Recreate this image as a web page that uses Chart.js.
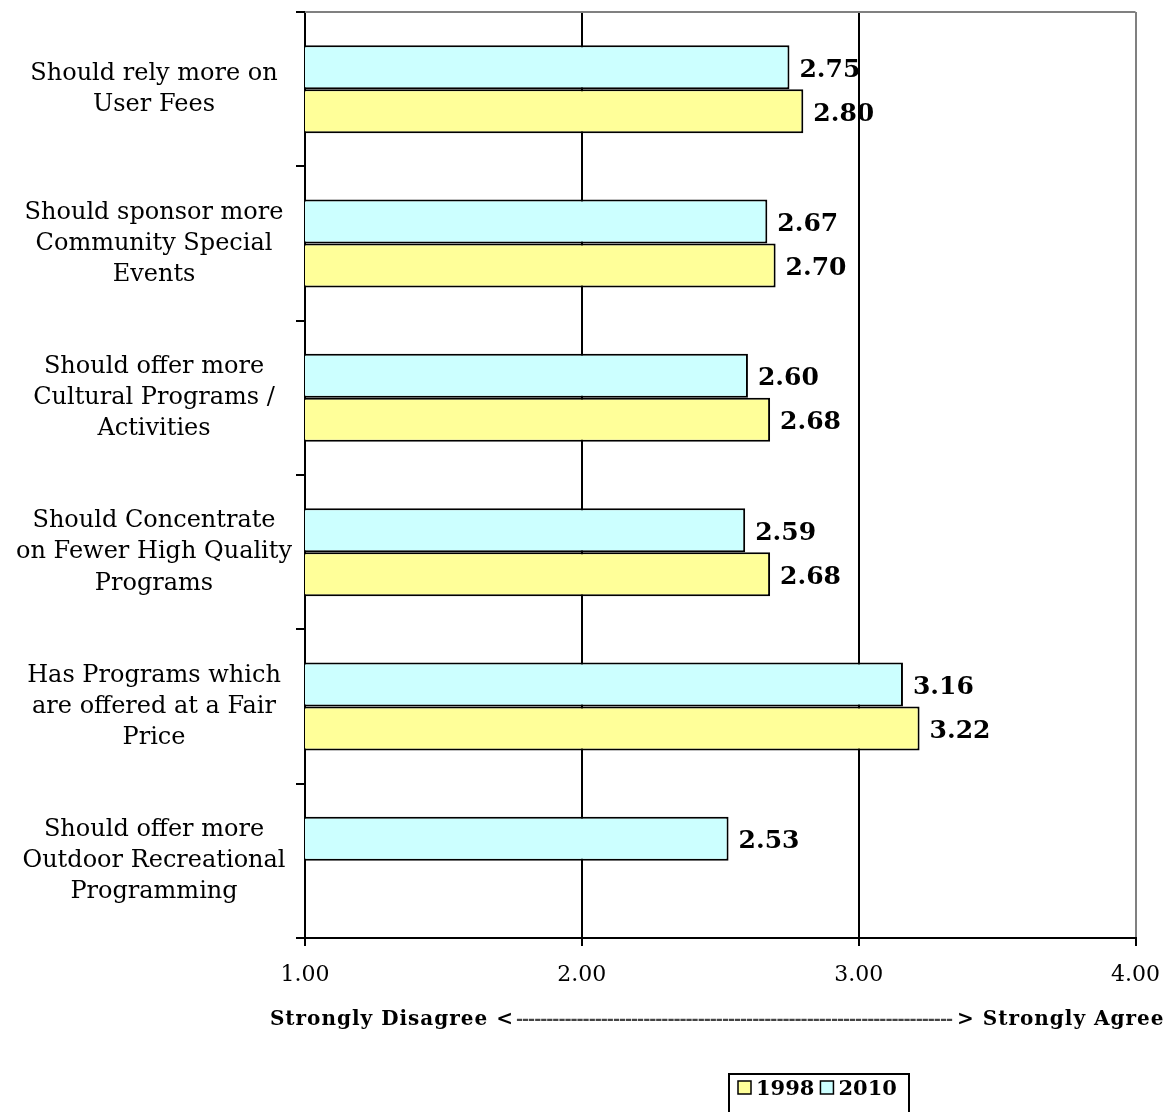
<!DOCTYPE html>
<html>
<head>
<meta charset="utf-8">
<script src="https://cdn.jsdelivr.net/npm/chart.js@4.4.0/dist/chart.umd.min.js"></script>
<style>
  html, body { margin: 0; padding: 0; background: #fff; }
</style>
</head>
<body>
<canvas id="chart" width="1176" height="1112"></canvas>
<script>
const categories = [
    ["Should rely more on", "User Fees"],
    ["Should sponsor more", "Community Special", "Events"],
    ["Should offer more", "Cultural Programs /", "Activities"],
    ["Should Concentrate", "on Fewer High Quality", "Programs"],
    ["Has Programs which", "are offered at a Fair", "Price"],
    ["Should offer more", "Outdoor Recreational", "Programming"]
];
const values2010 = [2.75, 2.67, 2.60, 2.59, 3.16, 2.53];
const values1998 = [2.80, 2.70, 2.68, 2.68, 3.22, null];
const xTicks = [1, 2, 3, 4];
const titleLeft = "Strongly Disagree <";
const titleRight = "> Strongly Agree";

const serif = "'DejaVu Serif', serif";

// value labels at the end of each bar
const valueLabels = {
    id: 'valueLabels',
    afterDatasetsDraw(chart) {
        const ctx = chart.ctx;
        ctx.save();
        ctx.font = "bold 25px " + serif;
        ctx.fillStyle = "#000";
        ctx.textAlign = "left";
        ctx.textBaseline = "middle";
        chart.data.datasets.forEach((ds, i) => {
            chart.getDatasetMeta(i).data.forEach((bar, j) => {
                const v = ds.data[j];
                if (v == null) return;
                ctx.fillText(v.toFixed(2), bar.x + 10, bar.y + 3);
            });
        });
        ctx.restore();
    }
};

// grey plot area border on top
const plotBorder = {
    id: 'plotBorder',
    beforeDatasetsDraw(chart) {
        const { ctx, chartArea: a } = chart;
        ctx.save();
        ctx.strokeStyle = "#808080";
        ctx.lineWidth = 2;
        ctx.beginPath();
        ctx.moveTo(a.left, a.top);
        ctx.lineTo(a.right, a.top);
        ctx.stroke();
        ctx.restore();
    }
};

// the long "disagree <----> agree" axis title, wider than the plot area
const axisCaption = {
    id: 'axisCaption',
    afterDraw(chart) {
        const ctx = chart.ctx;
        const y = 1020;
        ctx.save();
        ctx.fillStyle = "#000";
        ctx.textBaseline = "middle";
        ctx.font = "bold 20px " + serif;
        ctx.letterSpacing = "1px";
        ctx.textAlign = "right";
        ctx.fillText(titleLeft, 514, y);
        ctx.textAlign = "left";
        ctx.fillText(titleRight, 957, y);
        // dashes between the two ends
        ctx.font = "bold 17px " + serif;
        ctx.letterSpacing = "-1px";
        ctx.fillStyle = "#444";
        let dashes = "";
        while (ctx.measureText(dashes + "-").width < 958 - 516) dashes += "-";
        ctx.fillText(dashes, 516, y);
        ctx.restore();
    }
};

// boxed legend under the axis title
const boxLegend = {
    id: 'boxLegend',
    afterDraw(chart) {
        const ctx = chart.ctx;
        const items = [
            { label: "1998", color: "#FFFF99" },
            { label: "2010", color: "#CCFFFF" }
        ];
        ctx.save();
        ctx.strokeStyle = "#000";
        ctx.lineWidth = 2;
        ctx.strokeRect(729, 1074, 180, 50);
        ctx.font = "bold 21px " + serif;
        ctx.textBaseline = "middle";
        let x = 738;
        items.forEach(it => {
            ctx.fillStyle = it.color;
            ctx.fillRect(x, 1081, 13, 13);
            ctx.lineWidth = 1.5;
            ctx.strokeRect(x, 1081, 13, 13);
            ctx.fillStyle = "#000";
            ctx.fillText(it.label, x + 18, 1090);
            x += 18 + ctx.measureText(it.label).width + 6;
        });
        ctx.restore();
    }
};

new Chart(document.getElementById('chart'), {
    type: 'bar',
    data: {
        labels: categories,
        datasets: [
            {
                label: "2010",
                data: values2010,
                backgroundColor: "#CCFFFF",
                borderColor: "#000",
                borderWidth: 2,
                categoryPercentage: 0.57,
                barPercentage: 1
            },
            {
                label: "1998",
                data: values1998,
                backgroundColor: "#FFFF99",
                borderColor: "#000",
                borderWidth: 2,
                categoryPercentage: 0.57,
                barPercentage: 1
            }
        ]
    },
    options: {
        indexAxis: 'y',
        responsive: false,
        animation: false,
        layout: { padding: { top: 12, right: 40, bottom: 80, left: 0 } },
        plugins: {
            legend: { display: false },
            tooltip: { enabled: false }
        },
        scales: {
            x: {
                min: 1,
                max: 4,
                afterBuildTicks: scale => { scale.ticks = xTicks.map(v => ({ value: v })); },
                afterFit: scale => { scale.height = 94; },
                ticks: {
                    color: "#000",
                    padding: 16,
                    font: { family: serif, size: 22 },
                    callback: v => v.toFixed(2)
                },
                grid: {
                    color: c => (c.tick && c.tick.value === 4) ? "#808080" : "#000",
                    tickColor: "#000",
                    lineWidth: 2,
                    tickLength: 8
                },
                border: { color: "#000", width: 2 }
            },
            y: {
                afterFit: scale => {
                    scale.width = 305;
                    scale.paddingTop = 0;
                    scale.paddingBottom = 0;
                },
                ticks: {
                    color: "#000",
                    crossAlign: 'center',
                    padding: 4,
                    font: { family: serif, size: 24, lineHeight: 1.3 }
                },
                grid: {
                    drawOnChartArea: false,
                    color: "#000",
                    lineWidth: 2,
                    tickLength: 9
                },
                border: { color: "#000", width: 2 }
            }
        }
    },
    plugins: [plotBorder, valueLabels, axisCaption, boxLegend]
});
</script>
</body>
</html>
